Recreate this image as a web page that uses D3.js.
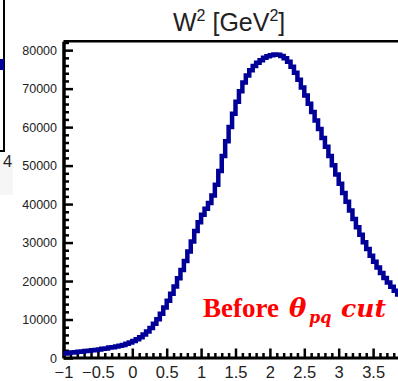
<!DOCTYPE html>
<html>
<head>
<meta charset="utf-8">
<script src="https://cdn.jsdelivr.net/npm/d3@7"></script>
<style>
  html, body { margin: 0; padding: 0; background: #fff; overflow: hidden; }
  svg { display: block; }
</style>
</head>
<body>
<script>
// W^2 histogram: 100 bins from -1 to 4 GeV^2
const histRange = [-1, 4];
const histBins = 100;
const counts = [
  1200, 1300, 1400, 1500, 1600, 1700, 1800, 1900, 2000, 2100,
  2200, 2400, 2500, 2700, 2800, 3000, 3200, 3400, 3700, 4000,
  4400, 4900, 5400, 6100, 6900, 7800, 8900, 10100, 11500, 13100,
  14900, 16700, 18600, 20700, 22900, 25200, 27700, 30300, 33000, 35300,
  37200, 38800, 40300, 42200, 45000, 48600, 52500, 56300, 60000, 63500,
  66600, 69300, 71600, 73400, 74800, 75900, 76700, 77400, 78000, 78400,
  78700, 78900, 78800, 78500, 77900, 77000, 75700, 74100, 72300, 70300,
  68200, 66100, 63900, 61700, 59500, 57200, 54900, 52500, 50100, 47700,
  45300, 42900, 40600, 38300, 36100, 34000, 32000, 30100, 28300, 26600,
  25000, 23500, 22100, 20800, 19600, 18500, 17500, 16500, 15600, 14800
];

const xMajorTicks = [-1, -0.5, 0, 0.5, 1, 1.5, 2, 2.5, 3, 3.5, 4];
const xTickLabels = ["\u22121", "\u22120.5", "0", "0.5", "1", "1.5", "2", "2.5", "3", "3.5", ""];
const yMajorTicks = [0, 10000, 20000, 30000, 40000, 50000, 60000, 70000, 80000];
const yMax = 82300;

const W = 398, H = 381;
const svg = d3.select("body").append("svg").attr("width", W).attr("height", H);

// ---- edge of the neighbouring panel on the left ----
const side = svg.append("g");
side.append("rect").attr("x", 0).attr("y", 160).attr("width", 13).attr("height", 35).attr("fill", "#f6f6f6");
side.append("path").attr("d", "M4,0 V151 H0").attr("fill", "none").attr("stroke", "#000").attr("stroke-width", 2);
side.append("path").attr("d", "M0,61 H2 V70").attr("fill", "none").attr("stroke", "#000099").attr("stroke-width", 4);
side.append("text").attr("x", 3).attr("y", 167).attr("font-family", "Liberation Sans, Arial, sans-serif")
  .attr("font-size", 16.5).attr("fill", "#222").text("4");

// ---- main panel ----
const x = d3.scaleLinear().domain(histRange).range([63.5, 407.5]);
const y = d3.scaleLinear().domain([0, yMax]).range([358, 41.3]);

const edges = d3.range(histBins + 1).map(i => histRange[0] + i * (histRange[1] - histRange[0]) / histBins);
const pts = counts.map((c, i) => [edges[i], c]);
pts.push([edges[histBins], counts[histBins - 1]]);

const fontAxis = "Liberation Sans, Arial, Helvetica, sans-serif";

// x minor ticks
const xMinor = d3.range(-10, 41).map(i => i / 10).filter(v => !xMajorTicks.some(m => Math.abs(m - v) < 1e-9));
svg.append("g").attr("transform", "translate(0,357.5)")
  .call(d3.axisBottom(x).tickValues(xMinor).tickSize(-4.5).tickSizeOuter(0).tickFormat(""))
  .call(g => g.select(".domain").remove())
  .call(g => g.selectAll("line").attr("stroke", "#000").attr("stroke-width", 2.5));

// x major ticks + labels
svg.append("g").attr("transform", "translate(0,357.5)")
  .call(d3.axisBottom(x).tickValues(xMajorTicks).tickSize(-9).tickSizeOuter(0).tickPadding(9)
    .tickFormat((d, i) => xTickLabels[i]))
  .call(g => g.select(".domain").attr("stroke", "#000").attr("stroke-width", 3))
  .call(g => g.selectAll("line").attr("stroke", "#000").attr("stroke-width", 2.5))
  .call(g => g.selectAll("text").attr("font-family", fontAxis).attr("font-size", 16.5).attr("fill", "#222"));

// y minor ticks
const yMinor = d3.range(0, 42).map(i => i * 2000).filter(v => v % 10000 !== 0 && v <= yMax);
svg.append("g").attr("transform", "translate(63.5,0)")
  .call(d3.axisLeft(y).tickValues(yMinor).tickSize(-5.5).tickSizeOuter(0).tickFormat(""))
  .call(g => g.select(".domain").remove())
  .call(g => g.selectAll("line").attr("stroke", "#000").attr("stroke-width", 2.5));

// y major ticks + labels
svg.append("g").attr("transform", "translate(63.5,0)")
  .call(d3.axisLeft(y).tickValues(yMajorTicks).tickSize(-9.5).tickSizeOuter(0).tickPadding(6.5)
    .tickFormat(d3.format("d")))
  .call(g => g.select(".domain").attr("stroke", "#000").attr("stroke-width", 3.5))
  .call(g => g.selectAll("line").attr("stroke", "#000").attr("stroke-width", 2.5))
  .call(g => g.selectAll("text").attr("font-family", fontAxis).attr("font-size", 12.5).attr("fill", "#222"));

// top frame line
svg.append("line").attr("x1", x(histRange[0])).attr("x2", x(histRange[1]))
  .attr("y1", y(yMax)).attr("y2", y(yMax)).attr("stroke", "#000").attr("stroke-width", 2.5);

// histogram outline
const line = d3.line().x(d => x(d[0])).y(d => y(d[1])).curve(d3.curveStepAfter);
svg.append("path").datum(pts).attr("d", line)
  .attr("fill", "none").attr("stroke", "#000099").attr("stroke-width", 4.5)
  .attr("stroke-linejoin", "miter");

// title
const title = svg.append("text").attr("x", 173).attr("y", 31)
  .attr("font-family", fontAxis).attr("font-size", 25).attr("fill", "#222");
title.append("tspan").text("W");
title.append("tspan").attr("font-size", 16).attr("dy", -10).text("2");
title.append("tspan").attr("dy", 10).text(" [GeV");
title.append("tspan").attr("font-size", 16).attr("dy", -10).text("2");
title.append("tspan").attr("dy", 10).text("]");

// annotation
const note = svg.append("g").attr("fill", "#ff0000");
note.append("text").attr("x", 203).attr("y", 317)
  .attr("font-family", "Liberation Serif, Times New Roman, serif").attr("font-weight", "bold")
  .attr("font-size", 27).text("Before");
const mathFont = "DejaVu Serif, serif";
note.append("text").attr("x", 289).attr("y", 317)
  .attr("font-family", mathFont).attr("font-weight", "bold").attr("font-style", "italic")
  .attr("font-size", 26).text("\u03B8");
note.append("text").attr("x", 309).attr("y", 323)
  .attr("font-family", mathFont).attr("font-weight", "bold").attr("font-style", "italic")
  .attr("font-size", 16).text("pq");
note.append("text").attr("x", 341).attr("y", 317)
  .attr("font-family", mathFont).attr("font-weight", "bold").attr("font-style", "italic")
  .attr("font-size", 25).text("cut");
</script>
</body>
</html>
